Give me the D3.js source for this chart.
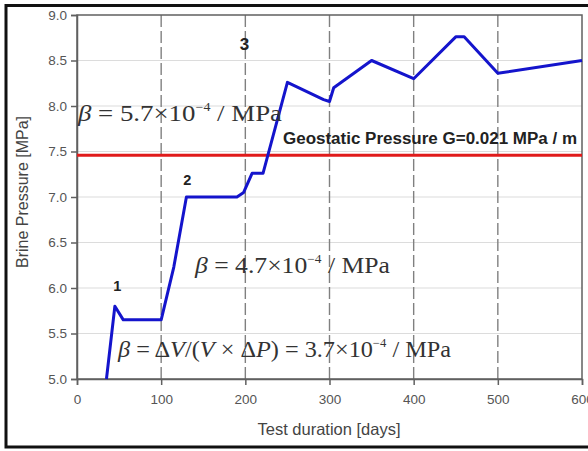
<!DOCTYPE html>
<html lang="en">
<head>
<meta charset="UTF-8">
<title>Brine pressure</title>
<script src="https://cdn.jsdelivr.net/npm/d3@7"></script>
<style>
body { margin: 0; background: #fff; }
svg { display: block; }
.tick text { font-family: "Liberation Sans", Arial, sans-serif; font-size: 13.5px; fill: #555; }
.formula { font-family: "Liberation Serif", "Times New Roman", serif; font-size: 23px; fill: #333; }
</style>
</head>
<body>
<script>
// test duration [days] / brine pressure [MPa]
const days     = [35, 45, 55, 100, 115, 130, 190, 198, 208, 221, 250, 293, 300, 305, 350, 400, 450, 460, 500, 600]
const pressure = [5.0, 5.8, 5.65, 5.65, 6.23, 7.0, 7.0, 7.05, 7.26, 7.26, 8.26, 8.07, 8.05, 8.2, 8.5, 8.3, 8.76, 8.76, 8.36, 8.5]
const geostatic = 7.46
const xTicks = [0, 100, 200, 300, 400, 500, 600]
const yTicks = [5.0, 5.5, 6.0, 6.5, 7.0, 7.5, 8.0, 8.5, 9.0]
const stages = [{label: "1", d: 48, p: 5.97}, {label: "2", d: 131, p: 7.13}, {label: "3", d: 199, p: 8.62}]

const W = 588, H = 451
const m = {left: 77, right: 6, top: 15, bottom: 72}

const svg = d3.select("body").append("svg").attr("width", W).attr("height", H)

// outer frame (cut off on the right side in the original)
svg.append("path")
    .attr("d", `M${W + 5},5.5 H6 V447 H${W + 5}`)
    .attr("fill", "none").attr("stroke", "#111").attr("stroke-width", 3)

const x = d3.scaleLinear().domain([0, 600]).range([m.left, W - m.right])
const y = d3.scaleLinear().domain([5, 9]).range([H - m.bottom, m.top])

// horizontal grid
svg.append("g").selectAll("line").data(yTicks.slice(1, -1)).enter().append("line")
    .attr("x1", x(0)).attr("x2", x(600))
    .attr("y1", d => y(d)).attr("y2", d => y(d))
    .attr("stroke", "#dcdcdc").attr("stroke-width", 1.2)

// vertical dashed grid
svg.append("g").selectAll("line").data(xTicks.slice(1, -1)).enter().append("line")
    .attr("x1", d => x(d)).attr("x2", d => x(d))
    .attr("y1", y(5)).attr("y2", y(9))
    .attr("stroke", "#808080").attr("stroke-width", 1.4).attr("stroke-dasharray", "12,4")

// plot frame
svg.append("rect")
    .attr("x", x(0)).attr("y", y(9)).attr("width", x(600) - x(0)).attr("height", y(5) - y(9))
    .attr("fill", "none").attr("stroke", "#606060").attr("stroke-width", 1.5)

const xAxis = svg.append("g").attr("transform", `translate(0,${y(5)})`)
    .call(d3.axisBottom(x).tickValues(xTicks).tickSize(6).tickPadding(9).tickFormat(d3.format("d")))
const yAxis = svg.append("g").attr("transform", `translate(${x(0)},0)`)
    .call(d3.axisLeft(y).tickValues(yTicks).tickSize(6).tickPadding(4).tickFormat(d3.format(".1f")))
for (const a of [xAxis, yAxis]) {
    a.select(".domain").attr("stroke", "#606060").attr("stroke-width", 1.5)
    a.selectAll(".tick line").attr("stroke", "#606060").attr("stroke-width", 1.5)
}

// geostatic pressure line
svg.append("line")
    .attr("x1", x(0)).attr("x2", x(600)).attr("y1", y(geostatic)).attr("y2", y(geostatic))
    .attr("stroke", "#e01b1b").attr("stroke-width", 3)

svg.append("text")
    .attr("x", 283).attr("y", 144)
    .attr("font-family", "Liberation Sans, Arial, sans-serif").attr("font-weight", "bold")
    .attr("font-size", 16).attr("fill", "#222")
    .attr("textLength", 294).attr("lengthAdjust", "spacingAndGlyphs")
    .text("Geostatic Pressure G=0.021 MPa / m")

// brine pressure curve
const pts = days.map((d, i) => [d, pressure[i]])
svg.append("path")
    .datum(pts)
    .attr("fill", "none").attr("stroke", "#1414cc").attr("stroke-width", 3).attr("stroke-linejoin", "round")
    .attr("d", d3.line().x(d => x(d[0])).y(d => y(d[1])))

// stage numbers
svg.append("g").selectAll("text").data(stages).enter().append("text")
    .attr("x", d => x(d.d)).attr("y", d => y(d.p))
    .attr("text-anchor", "middle")
    .attr("font-family", "Liberation Sans, Arial, sans-serif").attr("font-weight", "bold")
    .attr("font-size", d => d.label == "3" ? 17 : 14.5).attr("fill", "#222")
    .text(d => d.label)

// compressibility formulas
function formula(px, py, len, parts) {
    const t = svg.append("text").attr("class", "formula").attr("x", px).attr("y", py)
        .attr("textLength", len).attr("lengthAdjust", "spacingAndGlyphs")
    parts.forEach(p => {
        const s = t.append("tspan").text(p.t)
        if (p.i) s.attr("font-style", "italic")
        if (p.sup) s.attr("font-size", 12).attr("dy", -10)
        if (p.down) s.attr("dy", 10)
    })
}
formula(78, 121, 204, [{t: "β", i: 1}, {t: " = 5.7×10"}, {t: "−4", sup: 1}, {t: " / MPa", down: 1}])
formula(195, 273, 195, [{t: "β", i: 1}, {t: " = 4.7×10"}, {t: "−4", sup: 1}, {t: " / MPa", down: 1}])
formula(118, 357, 333, [{t: "β", i: 1}, {t: " = Δ"}, {t: "V", i: 1}, {t: "/("}, {t: "V", i: 1}, {t: " × Δ"}, {t: "P", i: 1},
    {t: ") = 3.7×10"}, {t: "−4", sup: 1}, {t: " / MPa", down: 1}])

// axis titles
svg.append("text")
    .attr("transform", `translate(28,192) rotate(-90)`)
    .attr("text-anchor", "middle")
    .attr("font-family", "Liberation Sans, Arial, sans-serif").attr("font-size", 16).attr("fill", "#444")
    .text("Brine Pressure [MPa]")
svg.append("text")
    .attr("x", 329).attr("y", 435)
    .attr("text-anchor", "middle")
    .attr("font-family", "Liberation Sans, Arial, sans-serif").attr("font-size", 16.5).attr("fill", "#444")
    .text("Test duration [days]")
</script>
</body>
</html>
